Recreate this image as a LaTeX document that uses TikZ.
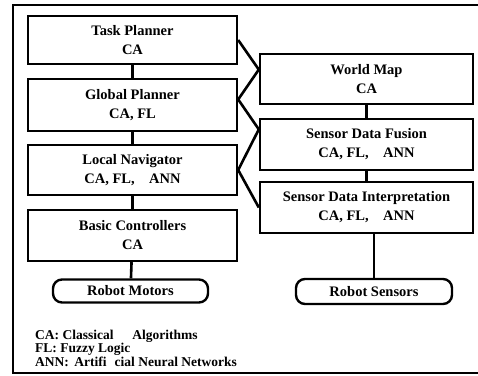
\documentclass[tikz,border=0pt]{standalone}
\usepackage{fontspec}
\setmainfont{Liberation Serif}
\usetikzlibrary{calc,positioning}

\begin{document}
\begin{tikzpicture}[x=1pt, y=-1pt]

\tikzstyle{block}=[draw, text centered, align=center, line width=2.4pt, inner sep=0pt, font=\bfseries\fontsize{14.5}{19}\selectfont]
\tikzstyle{ending}=[draw, text centered, rounded corners=9pt, line width=2.4pt, inner sep=0pt, font=\bfseries\fontsize{14.5}{17}\selectfont]
\tikzstyle{cr}=[line width=2.6pt]

\useasboundingbox (0,0) rectangle (478,375);

% frame
\draw[line width=1.8pt] (479,5) -| (13,373) -- (479,373);

% left column
\node(TP)[style = block, minimum width=209pt, minimum height=48pt] at (132.5,40) {Task Planner\\CA};
\node(GP)[style = block, minimum width=209pt, minimum height=52pt] at (132.5,105) {Global Planner\\CA, FL};
\node(LN)[style = block, minimum width=209pt, minimum height=50pt] at (132.5,170) {Local Navigator\\CA, FL,\hspace{1em}ANN};
\node(BC)[style = block, minimum width=209pt, minimum height=51pt] at (132.5,235.5) {Basic Controllers\\CA};
\node(RM)[style = ending, minimum width=155pt, minimum height=23pt] at (130.5,291) {Robot Motors};

% right column
\node(WM)[style = block, minimum width=213pt, minimum height=50pt] at (366.5,79) {World Map\\CA};
\node(SF)[style = block, minimum width=213pt, minimum height=51pt] at (366.5,144.5) {Sensor Data Fusion\\CA, FL,\hspace{1em}ANN};
\node(SI)[style = block, minimum width=213pt, minimum height=51pt] at (366.5,207.5) {Sensor Data Interpretation\\CA, FL,\hspace{1em}ANN};
\node(RS)[style = ending, minimum width=156pt, minimum height=25pt] at (374,291.5) {Robot Sensors};

% legend
\node(LG)[anchor=north west, align=left, inner sep=0pt, font=\bfseries\fontsize{13.5}{10.5}\selectfont] at (35,330) {CA: Classical\hspace{1.4em}Algorithms\\FL: Fuzzy Logic\\ANN:\hspace{0.4em}Artifi\hspace{0.6em}cial Neural Networks};

% links
\draw[style = cr] (TP) -- (GP);
\draw[style = cr] (GP) -- (LN);
\draw[style = cr] (LN) -- (BC);
\draw[style = cr] (BC) -- (RM);

\draw[style = cr] (WM.south -| SF) -- (SF);
\draw[style = cr] (SF) -- (SI);
\draw[style = cr] (RS.north) -- (RS.north |- SI.south);

\draw[style = cr] (TP.east) -- (WM.175) -- (GP.3) -- (SF.172) -- (LN.east) -- (SI.west);

\end{tikzpicture}
\end{document}
